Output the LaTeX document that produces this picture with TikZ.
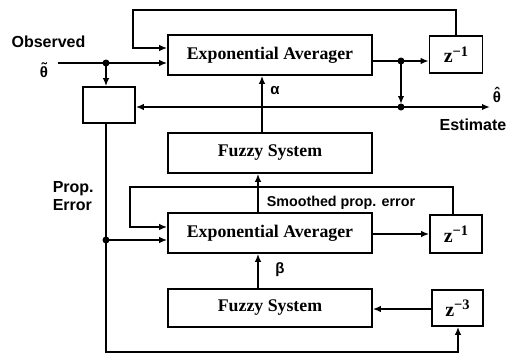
\documentclass[tikz,border=0pt]{standalone}
\usepackage{fontspec}
\setmainfont{Liberation Serif}
\newfontfamily\labfont{Liberation Sans}
\usetikzlibrary{arrows.meta}
\newcommand{\zinv}[1]{{\fontsize{20}{20}\selectfont\bfseries z}\raisebox{6.5pt}{\fontsize{14.5}{14}\selectfont\bfseries −#1}}
\newcommand{\accth}[2]{\ooalign{θ\cr\hidewidth\raisebox{#2}{#1}\hidewidth\cr}}
\begin{document}
\begin{tikzpicture}[x=1pt,y=-1pt,
  line width=1.6pt,
  blk/.style={draw, line width=1.6pt, rectangle, inner sep=0pt,
    font=\fontsize{17.8}{20}\selectfont\bfseries},
  arr/.style={-{Latex[length=8pt,width=6.5pt]}},
  jdot/.style={circle, fill, inner sep=0pt, minimum size=7pt},
  lab/.style={font=\fontsize{16}{18.5}\selectfont\labfont\bfseries, inner sep=0pt},
  greek/.style={inner sep=0pt, font=\fontsize{15}{17}\selectfont\labfont\bfseries},
]
\useasboundingbox (0,0) rectangle (507,354);

% blocks
\node[blk, minimum width=204pt, minimum height=40pt] (ea1) at (270,55) {Exponential Averager};
\node[blk, minimum width=53pt, minimum height=37pt] (z1) at (456,54.5) {\zinv{1}};
\node[blk, minimum width=52pt, minimum height=36pt] (pe) at (109,105) {};
\node[blk, minimum width=204pt, minimum height=40pt] (fs1) at (270,153) {Fuzzy System};
\node[blk, minimum width=204pt, minimum height=40pt] (ea2) at (270,233) {Exponential Averager};
\node[blk, minimum width=52pt, minimum height=38pt] (z2) at (456,234) {\zinv{1}};
\node[blk, minimum width=204pt, minimum height=38pt] (fs2) at (270,308) {Fuzzy System};
\node[blk, minimum width=51pt, minimum height=36pt] (z3) at (457.5,308) {\zinv{3}};

% coordinates
\coordinate (in) at (58,63);
\coordinate (j1) at (106,63);
\coordinate (j2) at (401,61);
\coordinate (j3) at (401,107);
\coordinate (out) at (490,107);
\coordinate (j4) at (106,240);

% top loop
\draw[arr] (z1.north) |- (133,10) |- (ea1.west |- 0,48);
% input
\draw[arr] (in) -- (ea1.west |- in);
\draw[arr] (j1) -- (j1 |- pe.north);
% output of ea1
\draw[arr] (ea1.east |- j2) -- (z1.west |- j2);
\draw[arr, shorten >=3pt] (j2) -- (j3);
\draw[arr] (j3) -- (pe.east |- j3);
\draw[arr] (j3) -- (out);
% alpha
\draw[arr] (fs1.north -| 262,0) -- (ea1.south -| 262,0);
% prop error line
\draw[arr] (pe.south -| j1) |- (458,352) -- (z3.south -| 458,0);
\draw[arr] (j4) -- (ea2.west |- j4);
% second loop
\draw[arr] (z2.north -| 453,0) |- (130,187) |- (ea2.west |- 0,227);
% smoothed error to fs1
\draw[arr] (ea2.north -| 258,0) -- (fs1.south -| 258,0);
\draw[arr] (ea2.east |- 0,234) -- (z2.west |- 0,234);
% beta
\draw[arr] (fs2.north -| 258,0) -- (ea2.south -| 258,0);
% z3 to fs2
\draw[arr] (z3.west |- 0,309) -- (fs2.east |- 0,309);

% dots
\node[jdot] at (j1) {};
\node[jdot] at (j2) {};
\node[jdot] at (j3) {};
\node[jdot] at (j4) {};

% labels
\node[lab] (obs) at (48.5,42) {Observed};
\node[greek] (tht) at (44,72) {\accth{˜}{4pt}};
\node[lab, anchor=west, align=left] (perr) at (52,196) {Prop.\\Error};
\node[lab] (est) at (473,125) {Estimate};
\node[greek] (thh) at (497,97) {\accth{ˆ}{3.5pt}};
\node[greek] (al) at (275,91) {α};
\node[greek] (be) at (280,270) {β};
\node[lab, anchor=west, font=\fontsize{14.3}{17}\selectfont\labfont\bfseries] (sm) at (266,203) {Smoothed prop. error};
\end{tikzpicture}
\end{document}
